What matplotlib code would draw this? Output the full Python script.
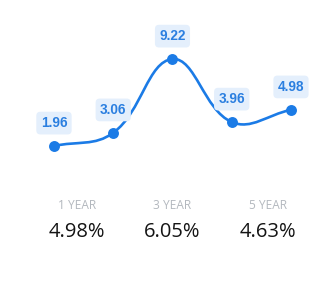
import numpy as np
import matplotlib
matplotlib.use("Agg")
import matplotlib.pyplot as plt
from matplotlib.path import Path
from matplotlib.patches import PathPatch

# data
values = [1.96, 3.06, 9.22, 3.96, 4.98]
point_labels = ["1.96", "3.06", "9.22", "3.96", "4.98"]
periods = ["1 YEAR", "3 YEAR", "5 YEAR"]
returns = ["4.98%", "6.05%", "4.63%"]

BLUE = "#1b7be6"
LABEL_BLUE = "#2b7fe0"
BOX_BLUE = "#e4effc"

W, H = 334, 281
fig = plt.figure(figsize=(W / 100, H / 100), dpi=100)
ax = fig.add_axes([0, 0, 1, 1])
ax.set_xlim(-0.911, 4.726)
ax.set_ylim(-9.31, 14.15)
ax.axis("off")

x = np.arange(len(values))
y = np.array(values)

# Chart.js style spline (tension 0.4), computed in pixel space
sx = W / (4.726 + 0.911)
sy = H / (14.15 + 9.31)
px = x * sx
py = y * sy
t = 0.4
n = len(px)
cp_prev = []
cp_next = []
for i in range(n):
    a = (px[max(i - 1, 0)], py[max(i - 1, 0)])
    b = (px[i], py[i])
    c = (px[min(i + 1, n - 1)], py[min(i + 1, n - 1)])
    d01 = np.hypot(b[0] - a[0], b[1] - a[1])
    d12 = np.hypot(c[0] - b[0], c[1] - b[1])
    tot = d01 + d12
    s01 = d01 / tot if tot else 0
    s12 = d12 / tot if tot else 0
    fa, fb = t * s01, t * s12
    cp_prev.append((b[0] - fa * (c[0] - a[0]), b[1] - fa * (c[1] - a[1])))
    cp_next.append((b[0] + fb * (c[0] - a[0]), b[1] + fb * (c[1] - a[1])))

verts = [(px[0] / sx, py[0] / sy)]
codes = [Path.MOVETO]
for i in range(n - 1):
    verts += [(cp_next[i][0] / sx, cp_next[i][1] / sy),
              (cp_prev[i + 1][0] / sx, cp_prev[i + 1][1] / sy),
              (px[i + 1] / sx, py[i + 1] / sy)]
    codes += [Path.CURVE4] * 3
ax.add_patch(PathPatch(Path(verts, codes), facecolor="none", edgecolor=BLUE,
                       lw=1.9, capstyle="round"))
ax.scatter(x, y, s=62, color=BLUE, zorder=3, linewidths=0)

for xi, yi, lab in zip(x, y, point_labels):
    ax.annotate(lab, (xi, yi), xytext=(0, 16.5), textcoords="offset points",
                ha="center", va="center", fontsize=9.8, fontweight="bold",
                family="Liberation Sans", color=LABEL_BLUE, zorder=4,
                bbox=dict(boxstyle="round,pad=0.32,rounding_size=0.3",
                          fc=BOX_BLUE, ec="none"))

cols = [77, 172, 268]
for cx, per, ret in zip(cols, periods, returns):
    fig.text(cx / W, 1 - 205.5 / H, per, ha="center", va="center",
             fontsize=8.6, family="Open Sans", color="#b3b8be")
    fig.text(cx / W, 1 - 232 / H, ret, ha="center", va="center",
             fontsize=14.5, family="Open Sans", color="#141414")

fig.savefig("out.png", dpi=100)
